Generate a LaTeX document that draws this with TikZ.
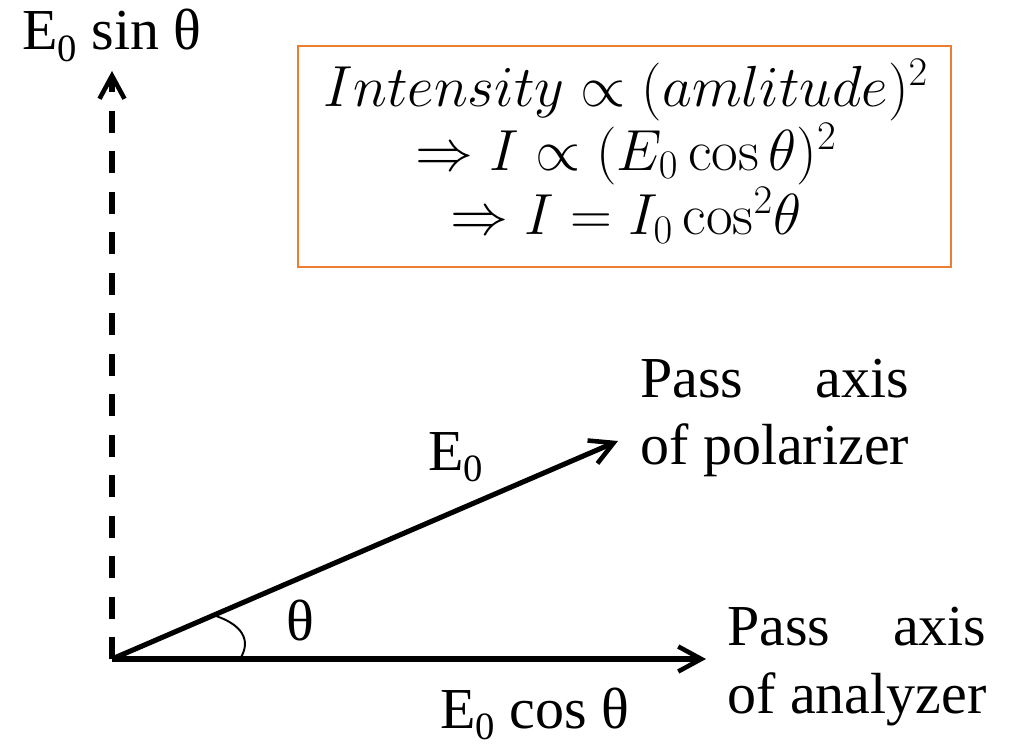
\RequirePackage{fix-cm}
\documentclass[tikz,border=0pt]{standalone}
\usepackage[no-math]{fontspec}
\setmainfont{Liberation Serif}
\usetikzlibrary{arrows.meta}
\definecolor{boxorange}{RGB}{237,125,49}
\newcommand\myzerosub{\raisebox{-6.5pt}{\fontsize{22}{22}\selectfont 0}}
\tikzset{
  vec/.style={line width=2.9pt, -{Straight Barb[length=4.6mm,width=5mm,line width=2.6pt]}},
  lbl/.style={inner sep=0pt, font=\fontsize{33}{38.7}\selectfont},
  boxframe/.style={draw=boxorange, line width=1.1pt, inner sep=0pt, minimum width=13.06cm, minimum height=4.42cm},
  mathtext/.style={inner sep=0pt, align=center, font=\fontsize{33}{36.5}\selectfont},
  anglearc/.style={line width=1.1pt}
}
\begin{document}
\begin{tikzpicture}[x=0.02cm,y=-0.02cm]
\useasboundingbox (0,0) rectangle (1016,746);
\coordinate (O) at (112,659);
\coordinate (V) at (112,71);
\coordinate (H) at (706,659);
\coordinate (P) at (618,441);
\coordinate (A1) at (213,615);
\coordinate (A2) at (240,659);

\draw[vec, dash pattern=on 0.44cm off 0.37cm] (O) -- (V);
\draw[vec] (O) -- (H);
\draw[vec] (O) -- (P);
\draw[anglearc] (A1) .. controls (242,624) and (252,640) .. (A2);

\node[lbl, anchor=base west] (sinlbl) at (22,50) {E\myzerosub\ sin θ};
\node[lbl, anchor=base west] (e0lbl) at (428,470) {E\myzerosub};
\node[lbl, anchor=base west] (coslbl) at (440,728) {E\myzerosub\ cos θ};
\node[lbl, anchor=base] (thlbl) at (300,640) {θ};
\node[lbl, anchor=base west] (pol) at (640,397) {\begin{tabular}[t]{@{}l@{}}Pass\hfill axis\\of polarizer\end{tabular}};
\node[lbl, anchor=base west] (ana) at (727,645) {\begin{tabular}[t]{@{}l@{}}Pass\hfill axis\\of analyzer\end{tabular}};

\node[boxframe] (frame) at (624.5,156.5) {};
\node[mathtext] (formula) at (626,151) {$Intensity \propto (amlitude)^2$\\ $\Rightarrow I\propto (E_0\cos\theta)^2$\\ $\Rightarrow I=I_0\cos^2\!\theta$};
\end{tikzpicture}
\end{document}
